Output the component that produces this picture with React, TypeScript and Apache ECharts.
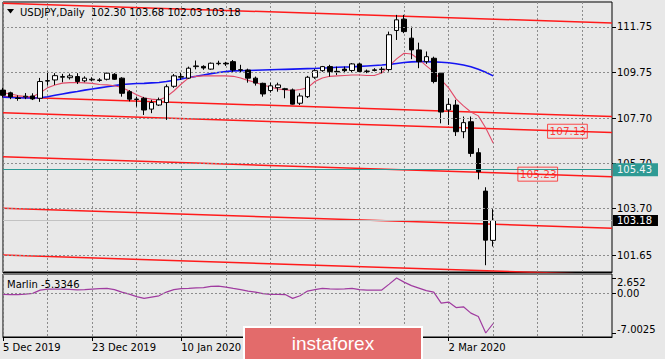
import React, { useEffect, useRef } from "react";
import * as echarts from "echarts";

// ---- data ----
const dates: string[] = [
  "5 Dec 2019", "6 Dec 2019", "9 Dec 2019", "10 Dec 2019", "11 Dec 2019", "12 Dec 2019", "13 Dec 2019",
  "16 Dec 2019", "17 Dec 2019", "18 Dec 2019", "19 Dec 2019", "20 Dec 2019", "23 Dec 2019", "24 Dec 2019",
  "26 Dec 2019", "27 Dec 2019", "30 Dec 2019", "31 Dec 2019", "2 Jan 2020", "3 Jan 2020", "6 Jan 2020",
  "7 Jan 2020", "8 Jan 2020", "9 Jan 2020", "10 Jan 2020", "13 Jan 2020", "14 Jan 2020", "15 Jan 2020",
  "16 Jan 2020", "17 Jan 2020", "20 Jan 2020", "21 Jan 2020", "22 Jan 2020", "23 Jan 2020", "24 Jan 2020",
  "27 Jan 2020", "28 Jan 2020", "29 Jan 2020", "30 Jan 2020", "31 Jan 2020", "3 Feb 2020", "4 Feb 2020",
  "5 Feb 2020", "6 Feb 2020", "7 Feb 2020", "10 Feb 2020", "11 Feb 2020", "12 Feb 2020", "13 Feb 2020",
  "14 Feb 2020", "17 Feb 2020", "18 Feb 2020", "19 Feb 2020", "20 Feb 2020", "21 Feb 2020", "24 Feb 2020",
  "25 Feb 2020", "26 Feb 2020", "27 Feb 2020", "28 Feb 2020", "2 Mar 2020", "3 Mar 2020", "4 Mar 2020",
  "5 Mar 2020", "6 Mar 2020", "9 Mar 2020", "10 Mar 2020",
];
// date labels visible under the chart (the others are covered by the logo)
const shownDateLabels: string[] = ["5 Dec 2019", "23 Dec 2019", "10 Jan 2020", "2 Mar 2020"];

// [open, high, low, close]
const candles: number[][] = [
  [108.95, 109.05, 108.62, 108.72], [108.83, 108.88, 108.55, 108.65], [108.60, 108.72, 108.48, 108.58],
  [108.65, 108.82, 108.55, 108.68], [108.69, 108.81, 108.51, 108.56], [108.59, 109.49, 108.43, 109.33],
  [109.35, 109.77, 109.15, 109.37], [109.40, 109.70, 109.18, 109.59], [109.52, 109.67, 109.30, 109.55],
  [109.50, 109.68, 109.42, 109.58], [109.55, 109.70, 109.22, 109.33], [109.36, 109.56, 109.30, 109.48],
  [109.40, 109.52, 109.34, 109.43], [109.40, 109.48, 109.32, 109.38], [109.43, 109.72, 109.38, 109.70],
  [109.65, 109.70, 109.40, 109.43], [109.48, 109.52, 108.66, 108.81], [108.88, 108.95, 108.45, 108.55],
  [108.55, 108.66, 108.22, 108.54], [108.59, 108.65, 107.85, 108.07], [108.11, 108.52, 107.93, 108.40],
  [108.29, 108.62, 108.25, 108.52], [108.40, 109.20, 107.63, 109.10], [109.12, 109.66, 109.05, 109.58],
  [109.52, 109.72, 109.40, 109.55], [109.48, 109.99, 109.44, 109.92], [109.99, 110.26, 109.87, 110.02],
  [110.00, 110.05, 109.85, 109.93], [109.88, 110.17, 109.85, 110.14], [110.12, 110.25, 110.05, 110.14],
  [110.14, 110.20, 110.02, 110.11], [110.21, 110.28, 109.76, 109.84], [109.85, 110.07, 109.73, 109.84],
  [109.84, 109.90, 109.28, 109.48], [109.48, 109.55, 109.15, 109.26], [109.25, 109.28, 108.66, 108.78],
  [108.93, 109.28, 108.84, 109.14], [109.06, 109.28, 108.88, 109.18], [109.01, 109.05, 108.59, 108.98],
  [108.96, 109.02, 108.31, 108.33], [108.37, 108.81, 108.29, 108.69], [108.66, 109.58, 108.60, 109.52],
  [109.52, 109.88, 109.45, 109.81], [109.81, 110.02, 109.76, 109.99], [109.99, 110.07, 109.55, 109.77],
  [109.78, 109.99, 109.62, 109.76], [109.88, 109.99, 109.70, 109.81], [109.82, 110.15, 109.75, 110.11],
  [110.11, 110.15, 109.71, 109.77], [109.78, 109.86, 109.70, 109.79], [109.82, 109.92, 109.78, 109.85],
  [109.86, 109.98, 109.70, 109.88], [109.86, 111.54, 109.77, 111.40], [111.59, 112.28, 111.17, 112.06],
  [112.09, 112.28, 111.47, 111.54], [111.25, 111.76, 110.32, 110.73], [110.73, 111.05, 109.92, 110.21],
  [110.21, 110.66, 110.11, 110.43], [110.36, 110.43, 109.25, 109.33], [109.70, 109.75, 107.48, 107.98],
  [108.07, 108.59, 107.41, 108.32], [108.29, 108.52, 106.92, 107.11], [107.11, 107.78, 106.82, 107.51],
  [107.55, 107.78, 106.00, 106.15], [106.18, 106.38, 105.00, 105.34], [104.48, 104.65, 101.20, 102.31],
  [102.30, 103.68, 102.03, 103.18],
];

const blueMA: number[] = [
  108.64, 108.62, 108.61, 108.60, 108.60, 108.61, 108.66, 108.72, 108.78, 108.84,
  108.89, 108.95, 109.00, 109.05, 109.10, 109.15, 109.20, 109.22, 109.24, 109.25,
  109.27, 109.29, 109.33, 109.38, 109.44, 109.51, 109.56, 109.62, 109.68, 109.73,
  109.77, 109.80, 109.81, 109.82, 109.83, 109.84, 109.85, 109.86, 109.87, 109.88,
  109.89, 109.90, 109.91, 109.93, 109.94, 109.96, 109.97, 109.98, 110.00, 110.02,
  110.04, 110.06, 110.09, 110.13, 110.17, 110.20, 110.21, 110.21, 110.20, 110.18,
  110.16, 110.12, 110.06, 109.98, 109.87, 109.74, 109.58,
];

const pinkMA: number[] = [
  108.83, 108.78, 108.71, 108.67, 108.66, 108.83, 109.05, 109.18, 109.26, 109.28,
  109.29, 109.27, 109.25, 109.20, 109.18, 109.14, 109.07, 108.91, 108.74, 108.60,
  108.55, 108.52, 108.65, 108.91, 109.22, 109.49, 109.56, 109.58, 109.58, 109.58,
  109.58, 109.56, 109.49, 109.38, 109.29, 109.18, 109.09, 109.00, 108.96, 108.93,
  108.98, 109.05, 109.33, 109.49, 109.56, 109.58, 109.60, 109.62, 109.62, 109.60,
  109.60, 109.71, 110.02, 110.33, 110.58, 110.55, 110.31, 110.02, 109.76, 109.40,
  109.05, 108.56, 108.25, 107.98, 107.81, 107.27, 106.61,
];

const marlin: number[] = [
  -0.23, -0.26, -0.26, -0.18, -0.05, 0.53, 0.70, 0.70, 0.70, 0.67,
  0.56, 0.61, 0.70, 0.79, 0.82, 0.61, 0.18, -0.18, -0.61, -0.93,
  -0.70, -0.47, 0.18, 0.61, 0.79, 0.82, 0.93, 0.96, 1.18, 1.23,
  1.05, 0.82, 0.61, 0.35, 0.18, -0.09, -0.23, -0.23, -0.26, -0.93,
  -0.47, 0.35, 0.61, 0.82, 0.74, 0.70, 0.75, 0.82, 0.61, 0.53,
  0.53, 0.53, 1.58, 2.652, 1.93, 1.32, 0.88, 0.44, 0.18, -1.75,
  -1.58, -2.54, -2.40, -3.51, -4.12, -7.0025, -5.3346,
];

// parallel channel lines: value at first bar and at right edge of chart
const channelStart: number[] = [112.80, 108.66, 107.95, 106.00, 103.72, 101.65];
const channelEnd: number[] = [111.92, 107.78, 107.07, 105.12, 102.84, 100.77];

const priceLabels: number[][] = [[76, 107.13], [72, 105.23]]; // [bar index, price]
const priceTicks: number[] = [111.75, 109.75, 107.70, 105.70, 103.70, 101.65];
const marlinTicks: number[] = [2.652, 0, -7.0025];
const marlinTickText: string[] = ["2.652", "0.00", "-7.0025"];
const askPrice = 105.43;
const bidPrice = 103.18;
const futureBars = 16;

// ---- styling ----
const BG = "#e8e8e8";
const FONT = "DejaVu Sans";
const GRIDC = "#8c8c8c";

export default function App() {
  const ref = useRef<HTMLDivElement>(null);
  useEffect(() => {
    if (!ref.current) return;
    const chart = echarts.init(ref.current, null, { renderer: "svg" });
    const axisDates = dates.concat(Array.from({ length: futureBars }, () => ""));
    const lastIdx = axisDates.length - 1;
    const last = candles[candles.length - 1];
    const header = `USDJPY,Daily  ${last[0].toFixed(2)} ${last[1].toFixed(2)} ${last[2].toFixed(2)} ${last[3].toFixed(2)}`;
    const lastMarlin = marlin[marlin.length - 1];
    const showDate = (i: number, v: string) => shownDateLabels.indexOf(v) >= 0;
    const gridLine = () => ({ color: GRIDC, type: [2, 2], width: 1 });

    const channelSeries = channelStart.map((s, i) => ({
      type: "line",
      xAxisIndex: 0,
      yAxisIndex: 0,
      data: [[0, s], [lastIdx, channelEnd[i]]],
      showSymbol: false,
      symbol: "none",
      lineStyle: { color: "#ff1a1a", width: 1.5 },
      z: 2,
      silent: true,
    }));

    const option: any = {
      animation: false,
      backgroundColor: BG,
      grid: [
        { left: 3, top: 2, width: 609, height: 270, show: true, borderColor: "#000", borderWidth: 1 },
        { left: 3, top: 274, width: 609, height: 63, show: true, borderColor: "#000", borderWidth: 1 },
      ],
      xAxis: [
        {
          type: "category", gridIndex: 0, data: axisDates, boundaryGap: false,
          axisLine: { show: true, onZero: false, lineStyle: { color: "#000" } }, axisTick: { show: false }, axisLabel: { show: false },
          splitLine: { show: true, interval: 5, lineStyle: gridLine() },
        },
        {
          type: "category", gridIndex: 1, data: axisDates, boundaryGap: false,
          axisLine: { show: true, onZero: false, lineStyle: { color: "#000" } },
          axisTick: { show: true, length: 4, interval: (i: number, v: string) => i % 12 === 0 && v !== "", lineStyle: { color: "#000" } },
          axisLabel: { interval: showDate, align: "left", margin: 5, fontSize: 10, color: "#000", fontFamily: FONT },
          splitLine: { show: true, interval: 5, lineStyle: gridLine() },
        },
      ],
      yAxis: [
        {
          type: "value", gridIndex: 0, position: "right", min: 100.9, max: 112.85,
          axisLine: { show: false }, splitLine: { show: false },
          axisTick: { show: true, length: 4, customValues: priceTicks, lineStyle: { color: "#000" } },
          axisLabel: { customValues: priceTicks, formatter: (v: number) => v.toFixed(2), margin: 5, fontSize: 10, color: "#000", fontFamily: FONT },
        },
        {
          type: "value", gridIndex: 1, position: "right", min: -7.705, max: 3.354,
          axisLine: { show: false }, splitLine: { show: false },
          axisTick: { show: true, length: 4, customValues: marlinTicks, lineStyle: { color: "#000" } },
          axisLabel: {
            customValues: marlinTicks, margin: 5, fontSize: 10, color: "#000", fontFamily: FONT,
            formatter: (v: number) => {
              const k = marlinTicks.findIndex((t) => Math.abs(t - v) < 1e-6);
              const txt = k >= 0 ? marlinTickText[k] : String(v);
              return k === 0 ? `{top|${txt}}` : k === 2 ? `{bot|${txt}}` : txt;
            },
            rich: {
              top: { padding: [10, 0, 0, 0], fontSize: 10, fontFamily: FONT, color: "#000" },
              bot: { padding: [0, 0, 6, 0], fontSize: 10, fontFamily: FONT, color: "#000" },
            },
          },
        },
      ],
      series: [
        ...channelSeries,
        {
          type: "line", xAxisIndex: 0, yAxisIndex: 0, data: blueMA, symbol: "none",
          lineStyle: { color: "#1515f2", width: 1.6 }, z: 3,
          markLine: {
            symbol: "none", label: { show: false }, silent: true,
            lineStyle: gridLine(),
            data: priceTicks.map((v) => ({ yAxis: v })),
          },
        },
        {
          type: "line", xAxisIndex: 0, yAxisIndex: 0, data: pinkMA, symbol: "none",
          lineStyle: { color: "#e24a68", width: 1.1 }, z: 3,
        },
        {
          type: "candlestick", xAxisIndex: 0, yAxisIndex: 0,
          data: candles.map(([o, h, l, c]) => [o, c, l, h]),
          barWidth: 5,
          itemStyle: { color: "#ffffff", color0: "#000000", borderColor: "#000000", borderColor0: "#000000", borderWidth: 1 },
          z: 4,
          markLine: {
            silent: true, symbol: "none",
            data: [
              {
                yAxis: askPrice,
                lineStyle: { color: "#2e9a94", width: 1, type: "solid" },
                label: { show: true, position: "end", distance: 1, formatter: askPrice.toFixed(2), backgroundColor: "#2e9a94", color: "#f4f4f4", padding: [2, 6, 1, 4], fontSize: 10, fontFamily: FONT },
              },
              {
                yAxis: bidPrice,
                lineStyle: { color: "#c2c2c2", width: 1, type: "solid" },
                label: { show: true, position: "end", distance: 1, formatter: bidPrice.toFixed(2), backgroundColor: "#000000", color: "#ffffff", padding: [1, 6, 0, 4], fontSize: 10, fontFamily: FONT },
              },
            ],
          },
        },
        {
          type: "scatter", xAxisIndex: 0, yAxisIndex: 0, data: priceLabels, symbolSize: 1,
          itemStyle: { color: "rgba(0,0,0,0)" }, silent: true, z: 5,
          label: {
            show: true, position: "inside", formatter: (p: any) => p.value[1].toFixed(2),
            color: "#ff1010", borderColor: "#ff2020", borderWidth: 1, padding: [2, 1, 1, 2],
            fontSize: 10.5, fontFamily: FONT,
          },
        },
        {
          type: "line", xAxisIndex: 1, yAxisIndex: 1, data: marlin, symbol: "none",
          lineStyle: { color: "#a03ca0", width: 1.2 },
          markLine: {
            symbol: "none", label: { show: false }, silent: true,
            lineStyle: gridLine(),
            data: [{ yAxis: 0 }],
          },
        },
      ],
      graphic: [
        { type: "polygon", shape: { points: [[7, 9], [14, 9], [10.5, 13.5]] }, style: { fill: "#000" }, z: 10 },
        { type: "text", x: 20, y: 12, style: { text: header, font: `10px "${FONT}"`, fill: "#000", verticalAlign: "middle" }, z: 10 },
        { type: "text", x: 7, y: 284, style: { text: `Marlin ${lastMarlin.toFixed(4)}`, font: `10px "${FONT}"`, fill: "#000", verticalAlign: "middle" }, z: 10 },
        { type: "rect", shape: { x: 244, y: 327, width: 178, height: 40 }, style: { fill: "#e36b6b", stroke: "#ffffff", lineWidth: 2 }, z: 20 },
        { type: "text", x: 333, y: 343, style: { text: "instaforex", font: `19px "Liberation Sans"`, fill: "#ffffff", align: "center", verticalAlign: "middle" }, z: 21 },
      ],
    };
    chart.setOption(option);
    return () => chart.dispose();
  }, []);
  return <div ref={ref} style={{ position: "fixed", left: 0, top: 0, width: 665, height: 359, background: BG }} />;
}
